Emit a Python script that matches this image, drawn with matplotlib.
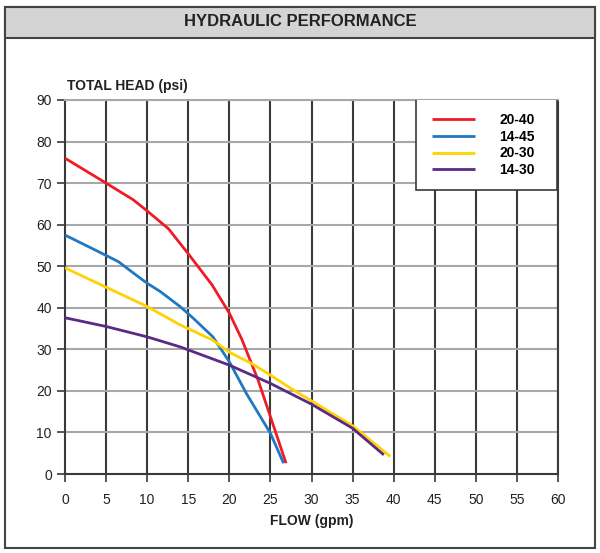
import matplotlib
matplotlib.use('Agg')
import matplotlib.pyplot as plt
from matplotlib.patches import Rectangle
import numpy as np

# font
plt.rcParams['font.family'] = ['Liberation Sans', 'DejaVu Sans']

# ===== data =====
flow_2040 = [0, 5, 8.3, 10, 12.6, 15, 17.9, 20, 21.5, 23.5, 25, 26.9]
head_2040 = [76, 70, 66, 63.3, 59, 53, 45.5, 38.7, 32.5, 22.6, 13.8, 2.6]

flow_1445 = [0, 4.9, 6.5, 8.9, 10, 11.6, 14, 15.6, 18, 20, 22.1, 25, 26.6]
head_1445 = [57.5, 52.7, 51.1, 47.5, 45.9, 43.9, 40.3, 37.5, 33, 27, 19.3, 9.8, 2.6]

flow_2030 = [0, 10, 14, 18, 20, 22.7, 25, 27.8, 30, 35, 39.6]
head_2030 = [49.6, 40.3, 35.9, 32.2, 29.3, 26.6, 23.8, 20.2, 17.6, 11.6, 4.2]

flow_1430 = [0, 5, 10, 14, 20, 25, 27.8, 30, 35, 38.8]
head_1430 = [37.6, 35.5, 33, 30.6, 26.2, 21.8, 19, 16.8, 11, 4.6]

series_names = ['20-40', '14-45', '20-30', '14-30']
series_colors = ['#ee1c25', '#1f78c1', '#ffd200', '#5b2a86']

x_ticks = np.arange(0, 61, 5)
y_ticks = np.arange(0, 91, 10)

# ===== figure =====
fig = plt.figure(figsize=(6, 5.53), dpi=100)

# outer frame and title band
fig.patches.append(Rectangle((5/600, 5/553), 590/600, 541/553, transform=fig.transFigure,
                             facecolor='white', edgecolor='#444444', linewidth=1.5, zorder=-2))
fig.patches.append(Rectangle((5/600, (553-38)/553), 590/600, 31/553, transform=fig.transFigure,
                             facecolor='#d4d4d4', edgecolor='#444444', linewidth=1.5, zorder=-1))
fig.text(0.5, (553-22)/553, 'HYDRAULIC PERFORMANCE', ha='center', va='center',
         fontsize=12, fontweight='bold', color='#222222')

ax = fig.add_axes([65/600, 79/553, 493/600, 374/553])
ax.set_zorder(2)
ax.set_xlim(0, 60)
ax.set_ylim(0, 90)

# grid: dark vertical, light horizontal
for x in x_ticks[1:]:
    ax.axvline(x, color='#3a3a3a', linewidth=1.5, zorder=1)
for y in y_ticks[1:]:
    ax.axhline(y, color='#a8a8a8', linewidth=1.5, zorder=1)

for line in ['left', 'bottom', 'right', 'top']:
    ax.spines[line].set_color('#3a3a3a')
    ax.spines[line].set_linewidth(1.5)
ax.spines['top'].set_color('#a8a8a8')

# curves
flows = [flow_2040, flow_1445, flow_2030, flow_1430]
heads = [head_2040, head_1445, head_2030, head_1430]
handles = []
for f, h, c, n in zip(flows, heads, series_colors, series_names):
    ln, = ax.plot(f, h, color=c, linewidth=2, label=n, zorder=3, solid_capstyle='butt')
    handles.append(ln)

ax.set_xticks(x_ticks)
ax.set_yticks(y_ticks)
ax.tick_params(direction='out', length=6, width=1.2, color='#3a3a3a', labelsize=10,
               labelcolor='#222222')
ax.tick_params(axis='x', pad=7.5)
ax.tick_params(axis='y', pad=3.5)

ax.set_xlabel('FLOW (gpm)', fontsize=10, fontweight='bold', color='#222222', labelpad=5)
ax.text(0.005, 1.018, 'TOTAL HEAD (psi)', transform=ax.transAxes, fontsize=10,
        fontweight='bold', color='#222222', ha='left', va='bottom')

# legend box
ax.add_patch(Rectangle(((416-65)/493, (474-190)/374), 141/493, 91/374,
                       transform=ax.transAxes, facecolor='white', edgecolor='#3a3a3a',
                       linewidth=1.2, zorder=4))
leg = ax.legend(handles=handles, loc='upper left', bbox_to_anchor=((425-65)/493, (474-106)/374),
                frameon=False, prop={'weight': 'bold', 'size': 10}, handlelength=3.1,
                handletextpad=1.75, labelspacing=0.2, borderpad=0)
leg.set_zorder(5)

fig.savefig('out.png', dpi=100, facecolor='white')
